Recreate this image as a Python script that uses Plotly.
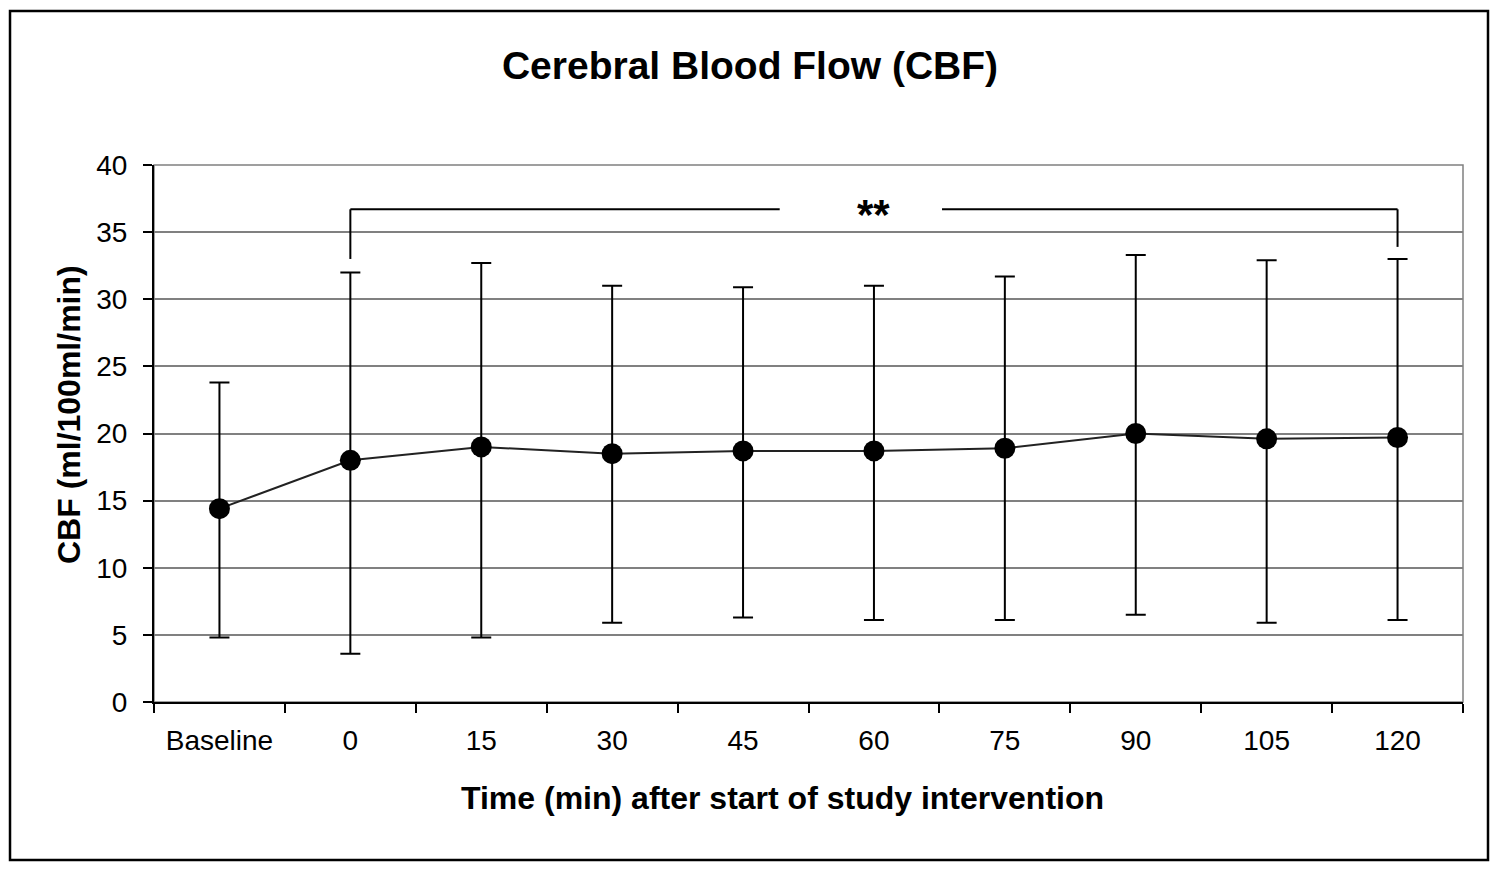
import plotly.graph_objects as go

categories = ["Baseline", "0", "15", "30", "45", "60", "75", "90", "105", "120"]
cbf_mean = [14.4, 18.0, 19.0, 18.5, 18.7, 18.7, 18.9, 20.0, 19.6, 19.7]
cbf_upper = [23.8, 32.0, 32.7, 31.0, 30.9, 31.0, 31.7, 33.3, 32.9, 33.0]
cbf_lower = [4.8, 3.6, 4.8, 5.9, 6.3, 6.1, 6.1, 6.5, 5.9, 6.1]
y_ticks = [0, 5, 10, 15, 20, 25, 30, 35, 40]

err_plus = [u - m for u, m in zip(cbf_upper, cbf_mean)]
err_minus = [m - l for m, l in zip(cbf_mean, cbf_lower)]

FONT = "Liberation Sans, Arial, sans-serif"
W, H = 1491, 862  # page body has an 8px margin

fig = go.Figure()
fig.add_trace(go.Scatter(
    x=categories, y=cbf_mean, mode="lines+markers",
    line=dict(color="#222222", width=2),
    marker=dict(color="black", size=21),
    error_y=dict(type="data", symmetric=False, array=err_plus, arrayminus=err_minus,
                 color="black", thickness=2, width=10),
    showlegend=False,
))

# significance bracket
br_y = 36.7
shapes = [
    dict(type="line", xref="x", yref="y", x0=1, x1=1, y0=br_y, y1=33.0, line=dict(color="black", width=2)),
    dict(type="line", xref="x", yref="y", x0=9, x1=9, y0=br_y, y1=33.9, line=dict(color="black", width=2)),
    dict(type="line", xref="x", yref="y", x0=1, x1=4.28, y0=br_y, y1=br_y, line=dict(color="black", width=2)),
    dict(type="line", xref="x", yref="y", x0=5.52, x1=9, y0=br_y, y1=br_y, line=dict(color="black", width=2)),
    # plot area border (gray)
    dict(type="rect", xref="paper", yref="paper", x0=0, x1=1, y0=0, y1=1,
         line=dict(color="#808080", width=1.5), layer="below"),
    # outer chart border
    dict(type="rect", xref="paper", yref="paper", x0=-0.110, x1=1.0191, y0=-0.2942, y1=1.2868,
         line=dict(color="black", width=2.5)),
]

fig.update_layout(
    width=W, height=H,
    margin=dict(l=146, r=36, t=157, b=168),
    paper_bgcolor="white", plot_bgcolor="white",
    font=dict(family=FONT, color="black"),
    title=dict(text="<b>Cerebral Blood Flow (CBF)</b>", x=(750 - 8) / W, xanchor="center",
               y=1 - 57 / H, yanchor="middle", font=dict(size=39, family=FONT)),
    shapes=shapes,
    annotations=[
        dict(text="<b>**</b>", x=5, y=br_y, xref="x", yref="y", showarrow=False,
             font=dict(size=42, family=FONT), yanchor="middle", yshift=-5),
        dict(text="<b>Time (min) after start of study intervention</b>", x=0.4805, y=-0.1788,
             xref="paper", yref="paper", showarrow=False, xanchor="center", yanchor="middle",
             font=dict(size=32, family=FONT)),
        dict(text="<b>CBF (ml/100ml/min)</b>", x=-0.0649, y=0.5345, textangle=-90,
             xref="paper", yref="paper", showarrow=False, xanchor="center", yanchor="middle",
             font=dict(size=32, family=FONT)),
    ],
)

fig.update_xaxes(
    type="category", range=[-0.5, 9.5], tickson="boundaries",
    showline=True, linecolor="black", linewidth=2,
    ticks="outside", ticklen=9, tickwidth=2, tickcolor="black",
    showgrid=False, zeroline=False,
    tickfont=dict(size=28, family=FONT), ticklabelstandoff=12,
)
fig.update_yaxes(
    range=[0, 40], tickvals=y_ticks,
    showline=True, linecolor="black", linewidth=2,
    ticks="outside", ticklen=9, tickwidth=2, tickcolor="black",
    showgrid=True, gridcolor="#808080", gridwidth=1.5, zeroline=False,
    tickfont=dict(size=28, family=FONT), ticklabelstandoff=10,
)

fig.write_html("out.html")
